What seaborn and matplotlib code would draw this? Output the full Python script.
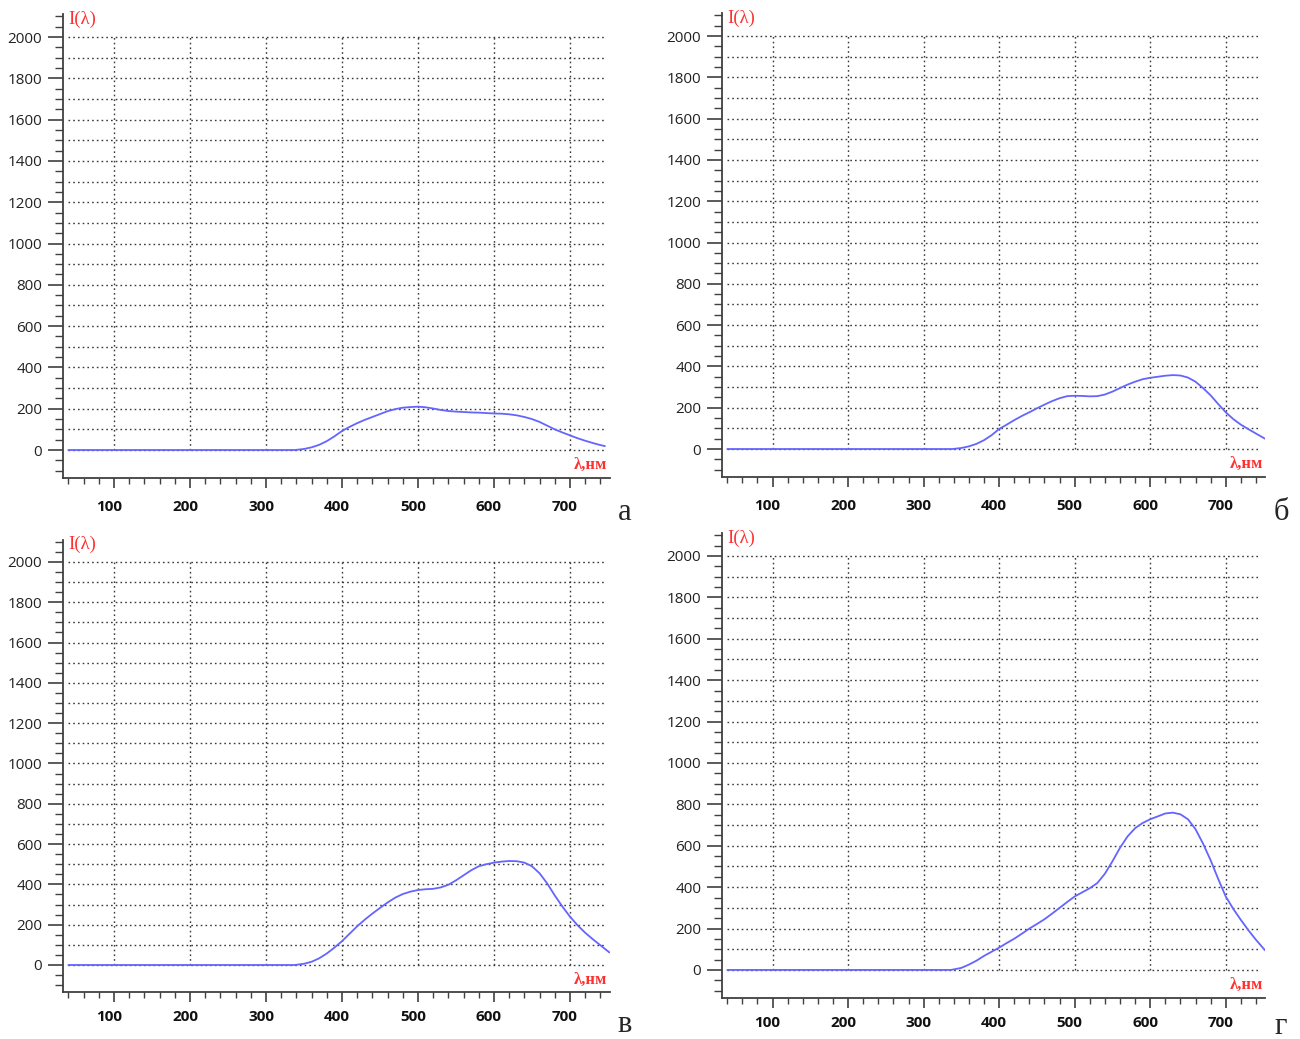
import numpy as np
import pandas as pd
import matplotlib
matplotlib.use("Agg")
import matplotlib.pyplot as plt
import matplotlib.transforms as mtransforms
from matplotlib.ticker import MultipleLocator
import seaborn as sns

# Emission spectra I(lambda) for four samples
wl_a = [40, 338, 350, 360, 370, 380, 390, 400, 410, 420, 430, 440, 450, 460, 470, 480,
        490, 500, 510, 520, 530, 540, 550, 560, 570, 580, 590, 600, 610, 620, 630, 640,
        650, 660, 670, 680, 690, 700, 710, 720, 730, 740, 746]
int_a = [0, 0, 5, 13, 25, 43, 66, 92, 112, 130, 146, 160, 174, 188, 198, 205,
         208, 210, 207, 201, 194, 189, 186, 184, 182, 181, 179, 177, 176, 173, 168, 160,
         150, 136, 118, 100, 85, 71, 57, 45, 34, 24, 19]

wl_b = [40, 338, 350, 360, 370, 380, 390, 400, 410, 420, 430, 440, 450, 460, 470, 480,
        490, 500, 510, 520, 530, 540, 550, 560, 570, 580, 590, 600, 610, 620, 630, 640,
        650, 660, 670, 680, 690, 700, 710, 720, 730, 740, 752]
int_b = [0, 0, 5, 13, 25, 43, 67, 97, 118, 140, 160, 178, 197, 215, 232, 246,
         256, 258, 257, 255, 256, 264, 278, 295, 312, 326, 338, 345, 350, 355, 358, 356,
         346, 326, 295, 260, 218, 178, 145, 118, 96, 75, 50]

wl_c = [40, 338, 350, 360, 370, 380, 390, 400, 410, 420, 430, 440, 450, 460, 470, 480,
        490, 500, 510, 520, 530, 540, 550, 560, 570, 580, 590, 600, 610, 620, 630, 640,
        650, 660, 670, 680, 690, 700, 710, 720, 730, 740, 752]
int_c = [0, 0, 6, 16, 33, 57, 86, 118, 155, 192, 225, 255, 283, 310, 334, 352,
         364, 372, 376, 378, 385, 398, 420, 445, 470, 490, 500, 508, 513, 516, 515, 508,
         490, 455, 405, 345, 290, 240, 197, 160, 128, 98, 62]

wl_d = [40, 336, 350, 360, 370, 380, 390, 400, 410, 420, 430, 440, 450, 460, 470, 480,
        490, 500, 510, 520, 530, 540, 550, 560, 570, 580, 590, 600, 610, 620, 630, 640,
        650, 660, 670, 680, 690, 700, 710, 720, 730, 740, 752]
int_d = [0, 0, 10, 26, 45, 68, 88, 108, 130, 151, 175, 200, 222, 245, 272, 300,
         328, 355, 375, 395, 420, 465, 525, 590, 645, 685, 710, 728, 742, 756, 760, 752,
         728, 680, 610, 530, 440, 355, 295, 242, 192, 146, 95]

panel_letters = ["а", "б", "в", "г"]
y_label = "I(λ)"
x_label = "λ,нм"
x_ticks = [100, 200, 300, 400, 500, 600, 700]
y_ticks = list(range(0, 2001, 200))

series = [(wl_a, int_a), (wl_b, int_b), (wl_c, int_c), (wl_d, int_d)]

sns.set_style("white")
plt.rcParams["font.family"] = ["Open Sans", "DejaVu Sans"]

W, H = 1300, 1039
fig = plt.figure(figsize=(W / 100, H / 100), dpi=100)

# axes boxes in pixels: left, top, right, bottom
boxes = [
    (63, 14.3, 609.5, 477.9),
    (722, 13.3, 1265, 476.9),
    (63, 539.8, 609.5, 992.2),
    (722, 533.2, 1265, 997.9),
]
label_pads = [9, 9, 6, 6]
letter_pos = [(625, 512), (1281, 512), (625, 1025), (1281, 1026)]

line_color = "#6464ff"
grid_color = "#3a3a3a"
axis_color = "#404040"

for (wl, inten), (l, t, r, b), pad, letter, (lx, ly) in zip(series, boxes, label_pads,
                                                            panel_letters, letter_pos):
    ax = fig.add_axes([l / W, 1 - b / H, (r - l) / W, (b - t) / H])
    df = pd.DataFrame({"wl": wl, "I": inten})

    ax.set_xlim(33, 752)
    ax.set_ylim(-135, 2110)

    # dotted grid restricted to the measurement window
    for gy in range(0, 2001, 100):
        ax.hlines(gy, 40, 745, colors=grid_color, linestyles=(0, (1.2, 2.2)), linewidth=1.0, zorder=1)
    for gx in x_ticks:
        ax.vlines(gx, 0, 2000, colors=grid_color, linestyles=(0, (1.2, 2.2)), linewidth=1.0, zorder=1)

    sns.lineplot(data=df, x="wl", y="I", ax=ax, color=line_color, linewidth=1.3, zorder=3)

    ax.set_xlabel("")
    ax.set_ylabel("")
    for side in ("top", "right"):
        ax.spines[side].set_visible(False)
    for side in ("left", "bottom"):
        ax.spines[side].set_color(axis_color)
        ax.spines[side].set_linewidth(1.3)

    ax.set_xticks(x_ticks)
    ax.xaxis.set_minor_locator(MultipleLocator(20))
    ax.set_yticks(y_ticks)
    ax.yaxis.set_minor_locator(MultipleLocator(50))

    ax.tick_params(axis="x", which="both", bottom=True, top=False)
    ax.tick_params(axis="y", which="both", left=True, right=False)
    ax.tick_params(axis="x", which="major", direction="out", length=7, width=1.2,
                   color=axis_color, pad=pad, labelsize=11)
    ax.tick_params(axis="x", which="minor", direction="out", length=4, width=1.0,
                   color=axis_color)
    ax.tick_params(axis="y", which="major", direction="out", length=11, width=1.2,
                   color=axis_color, pad=4, labelsize=11)
    ax.tick_params(axis="y", which="minor", direction="out", length=6, width=1.0,
                   color=axis_color)
    for lab in ax.get_xticklabels():
        lab.set_fontweight("bold")
        lab.set_color("#111111")
        lab.set_transform(lab.get_transform() +
                          mtransforms.ScaledTranslation(-5 / 100, 0, fig.dpi_scale_trans))
    for lab in ax.get_yticklabels():
        lab.set_color("#222222")

    ax.text(40, 2085, y_label, color="#ff3030", fontsize=13.5, ha="left", va="center",
            family=["Liberation Serif", "DejaVu Serif"])
    ax.text(749, -72, x_label, color="#ff3030", fontsize=12, ha="right", va="center",
            family=["Liberation Serif", "DejaVu Serif"], fontweight="bold")

    fig.text(lx / W, 1 - ly / H, letter, fontsize=22, ha="center", va="center",
             family=["Liberation Serif", "DejaVu Serif"])

fig.savefig("out.png", dpi=100, facecolor="white")
